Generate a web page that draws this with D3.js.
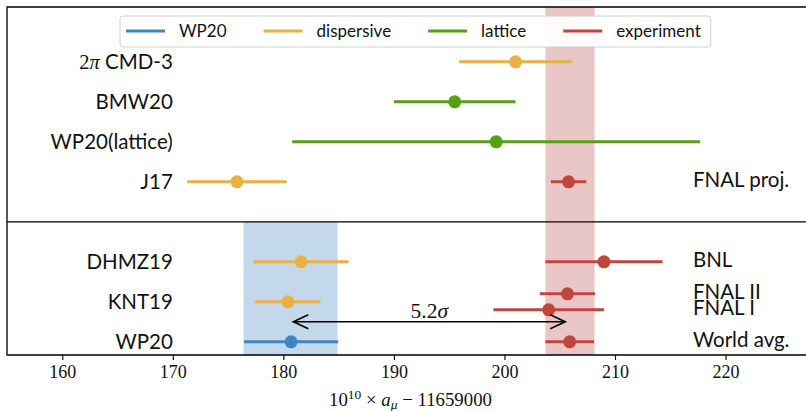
<!DOCTYPE html>
<html><head><meta charset="utf-8">
<script src="https://cdn.jsdelivr.net/npm/d3@7"></script>
<style>body{margin:0;background:#fff}svg{display:block}</style>
</head><body><svg id="c" width="806" height="411"></svg>
<script>
// ---- data ----
const theoryNames  = ["2π CMD-3","BMW20","WP20(lattice)","J17","DHMZ19","KNT19","WP20"];
const theoryRows   = [7,6,5,4,2,1,0];
const theoryValues = [201.0,195.5,199.25,175.8,181.6,180.4,180.7];
const theoryErrors = [5.1,5.5,18.45,4.5,4.3,2.95,4.25];
const theoryGroups = ["dispersive","lattice","lattice","dispersive","dispersive","dispersive","WP20"];

const expNames  = ["FNAL proj.","BNL","FNAL II","FNAL I","World avg."];
const expRows   = [4,2,1.2,0.8,0];
const expValues = [205.8,209.0,205.7,204.0,205.9];
const expErrors = [1.6,5.3,2.5,5.0,2.2];

const wpBand  = [176.4,184.9];
const expBand = [203.7,208.15];
const arrowRange = [180.9,205.5];
const arrowLabel = "5.2σ";
const arrowRow = 0.5;
const dividerRow = 3;

const legendNames = ["WP20","dispersive","lattice","experiment"];
const colors = {WP20:"#3d86c6",dispersive:"#e9b043",lattice:"#55a116",experiment:"#c0453a"};
const xTicks = [160,170,180,190,200,210,220];
const xDomain = [155,228];
const yDomain = [-0.33,8.37];

// ---- layout ----
const svg = d3.select("#c");
const L=7, R=814, T=7, B=355;
const x = d3.scaleLinear().domain(xDomain).range([L,R]);
const y = d3.scaleLinear().domain(yDomain).range([B,T]);
const sans = "Lato, 'Noto Sans', sans-serif";
const serif = "'Liberation Serif', serif";

// bands
svg.append("rect").attr("x",x(wpBand[0])).attr("width",x(wpBand[1])-x(wpBand[0]))
  .attr("y",y(dividerRow)).attr("height",y(yDomain[0])-y(dividerRow)).attr("fill","#c3d9eb");
svg.append("rect").attr("x",x(expBand[0])).attr("width",x(expBand[1])-x(expBand[0]))
  .attr("y",T).attr("height",B-T).attr("fill","#eac7c7");

// divider
svg.append("line").attr("x1",L).attr("x2",806).attr("y1",y(dividerRow)).attr("y2",y(dividerRow))
  .attr("stroke","#000").attr("stroke-width",1.3);

// error bars
function drawBars(vals,errs,rows,cols){
  const g = svg.append("g");
  vals.forEach((v,i)=>{
    g.append("line").attr("x1",x(v-errs[i])).attr("x2",x(v+errs[i]))
      .attr("y1",y(rows[i])).attr("y2",y(rows[i]))
      .attr("stroke",cols[i]).attr("stroke-width",3);
  });
  vals.forEach((v,i)=>{
    g.append("circle").attr("cx",x(v)).attr("cy",y(rows[i])).attr("r",6.5).attr("fill",cols[i]);
  });
}
drawBars(theoryValues,theoryErrors,theoryRows,theoryGroups.map(g=>colors[g]));
drawBars(expValues,expErrors,expRows,expValues.map(()=>colors.experiment));

// left labels
theoryNames.forEach((n,i)=>{
  const t = svg.append("text").attr("x",x(170)).attr("y",y(theoryRows[i])+7.5)
    .attr("text-anchor","end").attr("font-family",sans).attr("font-size",20.5).attr("fill","#111");
  if(n.startsWith("2π")){
    t.append("tspan").attr("font-family",serif).text("2");
    t.append("tspan").attr("font-family",serif).attr("font-style","italic").text("π");
    t.append("tspan").text(" "+n.slice(3));
  } else t.text(n);
});
// right labels
expNames.forEach((n,i)=>{
  svg.append("text").attr("x",x(217.05)).attr("y",y(expRows[i])+5.5)
    .attr("font-family",sans).attr("font-size",20.5).attr("fill","#111").text(n);
});

// arrow
const ay = y(arrowRow);
const ax1 = x(arrowRange[0]), ax2 = x(arrowRange[1]);
const ag = svg.append("g").attr("stroke","#000").attr("stroke-width",1.6).attr("fill","none");
ag.append("line").attr("x1",ax1).attr("x2",ax2).attr("y1",ay).attr("y2",ay);
ag.append("path").attr("d",`M${ax1+15},${ay-7}L${ax1},${ay}L${ax1+15},${ay+7}`);
ag.append("path").attr("d",`M${ax2-15},${ay-7}L${ax2},${ay}L${ax2-15},${ay+7}`);
const al = svg.append("text").attr("x",(ax1+ax2)/2).attr("y",ay-3.5).attr("text-anchor","middle")
  .attr("font-family",serif).attr("font-size",21.5).attr("fill","#111");
al.append("tspan").text(arrowLabel.slice(0,-1));
al.append("tspan").attr("font-style","italic").text(arrowLabel.slice(-1));

// frame
svg.append("path").attr("d",`M${806},${T}H${L}V${B}H${806}`).attr("fill","none")
  .attr("stroke","#000").attr("stroke-width",1.3);

// x axis
const xa = svg.append("g").attr("transform",`translate(0,${B})`)
  .call(d3.axisBottom(x).tickValues(xTicks).tickSize(5).tickPadding(5.5).tickFormat(d3.format("d")));
xa.select(".domain").remove();
xa.selectAll("line").attr("stroke","#000").attr("stroke-width",1.1);
xa.selectAll("text").attr("font-family",serif).attr("font-size",18).attr("fill","#111");

// axis label
const xl = svg.append("text").attr("x",(L+R)/2).attr("y",405.5).attr("text-anchor","middle")
  .attr("font-family",serif).attr("font-size",18.8).attr("fill","#111");
xl.append("tspan").text("10");
xl.append("tspan").attr("font-size",13.5).attr("dy",-7).text("10");
xl.append("tspan").attr("dy",7).text(" × ");
xl.append("tspan").attr("font-style","italic").text("a");
xl.append("tspan").attr("font-style","italic").attr("font-size",13.5).attr("dy",3).text("μ");
xl.append("tspan").attr("dy",-3).text(" − 11659000");

// legend
const lg = svg.append("g");
const box = lg.append("rect").attr("x",120).attr("y",16).attr("height",31).attr("rx",3)
  .attr("fill","#fff").attr("fill-opacity",0.93).attr("stroke","#d0d0d0").attr("stroke-width",1);
let cx = 126;
const ly = 31;
legendNames.forEach(n=>{
  lg.append("line").attr("x1",cx).attr("x2",cx+39).attr("y1",ly).attr("y2",ly)
    .attr("stroke",colors[n]).attr("stroke-width",3);
  const t = lg.append("text").attr("x",cx+53).attr("y",ly+6).attr("font-family",sans)
    .attr("font-size",17).attr("fill","#111").text(n);
  cx = cx+53+t.node().getComputedTextLength()+37;
});
box.attr("width",cx-37+10-120);
</script></body></html>
